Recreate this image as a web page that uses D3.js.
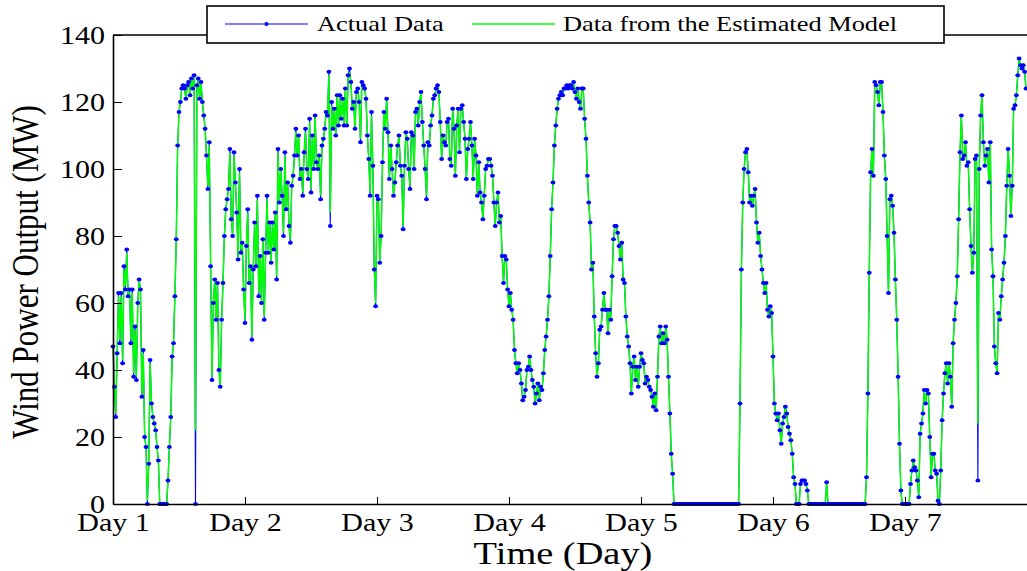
<!DOCTYPE html>
<html>
<head>
<meta charset="utf-8">
<script src="https://cdn.jsdelivr.net/npm/d3@7"></script>
<style>
  html, body { margin: 0; padding: 0; background: #fff; }
  svg { display: block; }
  text { font-family: "Liberation Serif", "Times New Roman", serif; fill: #000; }
</style>
</head>
<body>
<svg id="chart" width="1027" height="571"></svg>
<script>
// ---- data (15-minute samples, hour 0 = Day 1) ----
const sampleStepHours = 0.25;
const dayTickLabels = ["Day 1", "Day 2", "Day 3", "Day 4", "Day 5", "Day 6", "Day 7"];
const dayTickHours = [0, 24, 48, 72, 96, 120, 144];
const yTickValues = [0, 20, 40, 60, 80, 100, 120, 140];
const seriesNames = ["Actual Data", "Data from the Estimated Model"];

const actualData = [
  47,35,26,45, 63,48,63,42, 71,64,76,62, 64,48,64,38, 53,37,60,67, 64,32,46,20,
  17,0,12,43, 30,26,24,22, 17,13,0,0, 0,0,0,0, 7,17,26,44, 48,62,79,107,
  117,120,124,125, 124,121,125,126, 122,127,124,128, 0,125,127,121, 126,120,116,112, 104,94,108,71,
  37,60,67,55, 66,40,35,55, 66,80,88,91, 94,106,85,80, 105,96,87,73, 100,75,78,64,
  54,77,88,66, 71,49,70,84, 71,92,62,74, 60,79,55,75, 92,75,84,72, 84,76,87,67,
  106,90,100,92, 80,105,88,96, 83,78,95,98, 104,112,104,110, 97,100,92,105, 112,100,97,115,
  93,110,100,116, 102,100,104,91, 107,109,112,117, 116,129,83,120, 112,118,110,122, 113,122,115,121,
  113,124,113,128, 130,126,118,120, 112,123,124,120, 108,126,125,124, 121,110,103,92, 117,101,70,59,
  92,91,72,80, 102,117,112,121, 111,97,107,100, 92,96,102,107, 110,101,98,82, 101,111,109,100,
  94,111,110,100, 117,118,113,120, 123,114,107,100, 91,108,107,113, 116,121,122,124, 125,123,114,103,
  110,108,107,114, 115,103,101,118, 112,98,113,118, 105,118,119,114, 109,97,106,109, 114,107,97,109,
  104,92,102,93, 90,85,92,100, 101,103,103,101, 98,90,83,90, 93,84,86,74, 66,74,73,64,
  59,63,58,55, 46,42,39,42, 40,36,31,32, 34,40,41,44, 40,37,35,30, 33,36,31,35,
  34,39,46,50, 55,62,74,88, 96,107,113,118, 121,122,123,122, 124,124,125,124, 125,125,124,126,
  123,121,124,120, 118,124,124,115, 109,98,90,84, 70,72,56,45, 38,42,52,53, 58,63,58,58,
  51,58,55,68, 79,83,83,81, 77,73,78,67, 66,56,50,47, 42,33,41,44, 37,41,35,41,
  45,43,42,36, 38,37,35,34, 32,29,33,28, 38,50,53,48, 51,48,53,49, 38,27,15,9,
  0,0,0,0, 0,0,0,0, 0,0,0,0, 0,0,0,0, 0,0,0,0, 0,0,0,0,
  0,0,0,0, 0,0,0,0, 0,0,0,0, 0,0,0,0, 0,0,0,0, 0,0,0,0,
  30,70,90,100, 105,106,99,90, 92,89,92,94, 84,78,81,74, 70,66,63,66, 58,56,59,57,
  44,30,27,25, 27,22,18,24, 26,29,27,23, 21,19,15,8, 6,0,0,0, 6,7,7,7,
  6,4,0,0, 0,0,0,0, 0,0,0,0, 0,0,0,6.5, 0,0,0,0, 0,0,0,0,
  0,0,0,0, 0,0,0,0, 0,0,0,0, 0,0,0,0, 0,0,0,0, 8,33,69,99,
  106,98,126,125, 123,119,126,126, 117,104,97,80, 63,91,92,89, 81,67,55,38, 18,4,0,0,
  0,0,0,0, 6,10,13,11, 10,7,2,21, 24,27,34,30, 34,33,20,8, 15,15,10,9,
  1,0,10,25, 33,39,42,36, 42,38,29,48, 55,60,68,85, 105,116,103,104, 108,101,102,88,
  77,69,75,103, 104,7,100,116, 122,108,101,104, 106,96,108,76, 68,47,42,39, 57,55,62,67,
  72,80,95,106, 98,86,95,118, 119,122,128,133, 131,130,131,129, 124
];

const estimatedData = [
  47,36,27,44, 62,49,62,43, 70,65,75,62, 64,49,63,39, 52,38,59,67, 63,33,45,21,
  17,1,12,42, 30,26,24,22, 17,13,0,0, 0,0,0,0, 7,17,26,43, 48,62,79,106,
  117,120,124,125, 124,121,125,126, 122,127,124,128, 22,124,127,121, 126,120,116,112, 104,95,107,72,
  38,60,67,55, 66,41,35,55, 66,80,88,91, 94,105,86,80, 104,96,87,73, 99,76,78,64,
  55,77,87,66, 71,50,70,84, 71,91,63,74, 60,79,56,75, 91,75,84,72, 84,76,87,68,
  105,90,100,92, 81,104,88,96, 83,79,95,98, 104,111,104,110, 97,100,93,105, 111,100,97,114,
  94,110,100,116, 102,100,104,92, 107,109,112,117, 116,128,87,119, 112,118,110,122, 113,122,115,121,
  113,124,113,127, 129,126,118,120, 112,123,124,120, 109,126,125,124, 121,110,103,93, 116,101,71,60,
  91,91,72,80, 102,117,112,121, 111,97,107,100, 92,96,102,107, 110,101,98,83, 101,111,109,100,
  95,111,110,100, 117,118,113,120, 123,114,107,100, 92,108,107,113, 116,121,122,124, 125,123,114,103,
  110,108,107,114, 115,103,101,118, 112,98,113,118, 105,118,119,114, 109,97,106,109, 114,107,97,109,
  104,92,102,93, 90,85,92,100, 101,103,103,101, 98,90,83,90, 93,84,86,74, 66,74,73,64,
  59,63,58,55, 46,42,39,42, 40,36,31,32, 34,40,41,44, 40,37,35,30, 33,36,31,35,
  34,39,46,50, 55,62,74,88, 96,107,113,118, 121,122,123,122, 124,124,125,124, 125,125,124,126,
  123,121,124,120, 118,124,124,115, 109,98,90,84, 70,72,56,45, 38,42,52,53, 58,63,58,58,
  51,58,55,68, 79,83,83,81, 77,73,78,67, 66,56,50,47, 42,33,41,44, 37,41,35,41,
  45,43,42,36, 38,37,35,34, 32,29,33,28, 38,50,53,48, 51,48,53,49, 38,27,15,9,
  0,0,0,0, 0,0,0,0, 0,0,0,0, 0,0,0,0, 0,0,0,0, 0,0,0,0,
  0,0,0,0, 0,0,0,0, 0,0,0,0, 0,0,0,0, 0,0,0,0, 0,0,0,0,
  30,70,90,100, 105,106,99,90, 92,89,92,94, 84,78,81,74, 70,66,63,66, 58,56,59,57,
  44,30,27,25, 27,22,18,24, 26,29,27,23, 21,19,15,8, 6,0,0,0, 6,7,7,7,
  6,4,0,0, 0,0,0,0, 0,0,0,0, 0,0,0,6.5, 0,0,0,0, 0,0,0,0,
  0,0,0,0, 0,0,0,0, 0,0,0,0, 0,0,0,0, 0,0,0,0, 8,33,69,99,
  106,98,126,125, 123,119,126,126, 117,104,97,80, 63,91,92,89, 81,67,55,38, 18,4,0,0,
  0,0,0,0, 6,10,13,11, 10,7,2,21, 24,27,34,30, 34,33,20,8, 15,15,10,9,
  1,0,10,25, 33,39,42,36, 42,38,29,48, 55,60,68,85, 105,116,103,104, 108,101,102,88,
  77,69,75,103, 104,24,100,116, 122,108,101,104, 106,96,108,76, 68,47,42,39, 57,55,62,67,
  72,80,95,106, 98,86,95,118, 119,122,128,133, 131,130,131,129, 124
];

// ---- layout ----
const svg = d3.select("#chart");
const plot = { left: 113, right: 1037, top: 35, bottom: 504 };
const stretch = 1.2; // reference text is horizontally stretched

const x = d3.scaleLinear().domain([0, 168]).range([plot.left, plot.right]);
const y = d3.scaleLinear().domain([0, 140]).range([plot.bottom, plot.top]);

const actual = actualData.map((v, i) => ({ t: i * sampleStepHours, v }));
const estimated = estimatedData.map((v, i) => ({ t: i * sampleStepHours, v }));

// ---- axes box ----
svg.append("line").attr("x1", plot.left).attr("x2", plot.right).attr("y1", plot.top).attr("y2", plot.top)
  .attr("stroke", "#000").attr("stroke-width", 1.3);

const line = d3.line().x(d => x(d.t)).y(d => y(d.v));

// actual: blue line
svg.append("path").datum(actual).attr("d", line)
  .attr("fill", "none").attr("stroke", "#0000ff").attr("stroke-width", 1.1);

// estimated: green line
svg.append("path").datum(estimated).attr("d", line)
  .attr("fill", "none").attr("stroke", "#00ff00").attr("stroke-width", 1.5);

// actual: dot markers
svg.append("g").selectAll("ellipse").data(actual).join("ellipse")
  .attr("cx", d => x(d.t)).attr("cy", d => y(d.v)).attr("rx", 2.4).attr("ry", 2.0).attr("fill", "#0000ff");

// y axis
const yAxis = d3.axisLeft(y).tickValues(yTickValues).tickSize(0).tickPadding(0);
const gy = svg.append("g").attr("transform", `translate(${plot.left},0)`).call(yAxis);
gy.select(".domain").attr("stroke", "#000").attr("stroke-width", 1.6);
gy.selectAll(".tick text").remove();
gy.selectAll(".tick").append("line").attr("x1", 0).attr("x2", 9).attr("stroke", "#000").attr("stroke-width", 1);
gy.selectAll(".tick").append("text")
  .attr("transform", `translate(-8,8) scale(${stretch},1)`)
  .attr("text-anchor", "end").attr("font-size", 25)
  .text(d => d3.format("d")(d));

// x axis
const xAxis = d3.axisBottom(x).tickValues(dayTickHours).tickSize(0).tickPadding(0);
const gx = svg.append("g").attr("transform", `translate(0,${plot.bottom})`).call(xAxis);
gx.select(".domain").attr("stroke", "#000").attr("stroke-width", 1.6);
gx.selectAll(".tick text").remove();
gx.selectAll(".tick").append("line").attr("y1", 0).attr("y2", -7).attr("stroke", "#000").attr("stroke-width", 1);
gx.selectAll(".tick").append("text")
  .attr("transform", `translate(0,27) scale(${stretch},1)`)
  .attr("text-anchor", "middle").attr("font-size", 25)
  .text((d, i) => dayTickLabels[i]);

// axis titles
svg.append("text")
  .attr("transform", `translate(563,564) scale(${stretch},1)`)
  .attr("text-anchor", "middle").attr("font-size", 32)
  .text("Time (Day)");
svg.append("text")
  .attr("transform", `translate(38,272) scale(${stretch},1) rotate(-90)`)
  .attr("text-anchor", "middle").attr("font-size", 31)
  .text("Wind Power Output (MW)");

// legend
const lg = svg.append("g");
lg.append("rect").attr("x", 207).attr("y", 6).attr("width", 737).attr("height", 37)
  .attr("fill", "#fff").attr("stroke", "#000").attr("stroke-width", 1.6);
const legendItems = [
  { name: seriesNames[0], color: "#0000ff", x0: 225, x1: 308, tx: 317, marker: true },
  { name: seriesNames[1], color: "#00ff00", x0: 472, x1: 555, tx: 563, marker: false }
];
legendItems.forEach(it => {
  lg.append("line").attr("x1", it.x0).attr("x2", it.x1).attr("y1", 24).attr("y2", 24)
    .attr("stroke", it.color).attr("stroke-width", it.marker ? 1 : 1.4);
  if (it.marker) lg.append("circle").attr("cx", (it.x0 + it.x1) / 2).attr("cy", 24).attr("r", 2).attr("fill", it.color);
  lg.append("text").attr("transform", `translate(${it.tx},31) scale(${stretch},1)`)
    .attr("font-size", 22).text(it.name);
});
</script>
</body>
</html>
